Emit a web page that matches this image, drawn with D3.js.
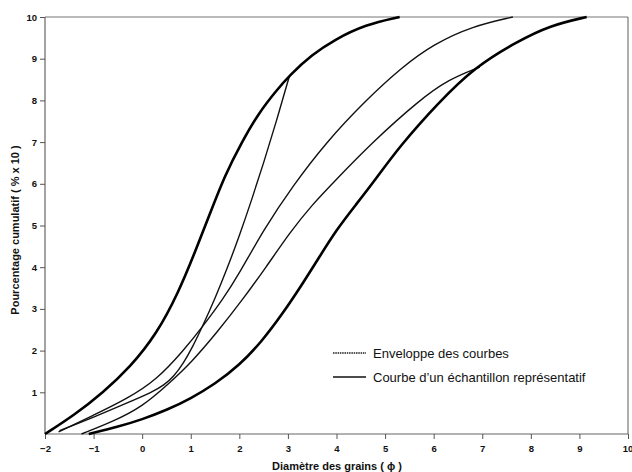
<!DOCTYPE html>
<html>
<head>
<meta charset="utf-8">
<script src="https://cdn.jsdelivr.net/npm/d3@7"></script>
<style>
  html, body { margin: 0; padding: 0; background: #fff; }
  svg { display: block; }
  text { font-family: "Liberation Sans", Arial, sans-serif; fill: #111; }
</style>
</head>
<body>
<svg id="chart" width="632" height="472"></svg>
<script>
// ---- Data ----
const xTicks = [-2, -1, 0, 1, 2, 3, 4, 5, 6, 7, 8, 9, 10];
const yTicks = [1, 2, 3, 4, 5, 6, 7, 8, 9, 10];

// Envelope curves (thick)
const envLeftX  = [-2, -1.4, -0.8, -0.25, 0.3, 0.75, 1.1, 1.4, 1.7, 2.05, 2.4, 2.75, 3.03, 3.5, 3.95, 4.6, 5.3];
const envLeftY  = [0, 0.45, 1.0, 1.6, 2.4, 3.4, 4.4, 5.3, 6.2, 7.0, 7.7, 8.22, 8.6, 9.1, 9.45, 9.82, 10];
const envRightX = [-1.1, -0.5, 0, 0.5, 1.0, 1.5, 2.0, 2.45, 2.9, 3.3, 3.65, 4.0, 4.4, 4.8, 5.3, 6.1, 6.85, 7.7, 8.4, 9.15];
const envRightY = [0, 0.17, 0.35, 0.57, 0.85, 1.2, 1.65, 2.2, 2.9, 3.6, 4.25, 4.9, 5.5, 6.1, 6.9, 7.95, 8.8, 9.4, 9.8, 10];

// Representative sample curves (thin)
const sampleAX = [-1.7, -1.0, -0.3, 0.2, 0.45, 0.65, 0.85, 1.03, 1.25, 1.5, 1.75, 2.0, 2.25, 2.5, 2.75, 3.03];
const sampleAY = [0.08, 0.4, 0.75, 1.0, 1.17, 1.38, 1.7, 2.07, 2.6, 3.25, 3.97, 4.75, 5.6, 6.5, 7.45, 8.58];
const sampleBX = [-1.72, -1.0, -0.3, 0.3, 0.85, 1.24, 1.65, 2.0, 2.5, 3.1, 3.79, 4.6, 5.35, 6.0, 6.8, 7.63];
const sampleBY = [0.05, 0.45, 0.85, 1.3, 2.0, 2.57, 3.21, 3.85, 4.9, 5.95, 7.0, 8.0, 8.8, 9.35, 9.78, 10];
const sampleCX = [-1.25, -0.6, 0, 0.56, 1.0, 1.55, 2.06, 2.55, 3.05, 3.5, 3.95, 4.74, 5.7, 6.3, 6.95];
const sampleCY = [0, 0.3, 0.65, 1.22, 1.7, 2.45, 3.21, 4.0, 4.85, 5.5, 6.05, 7.0, 8.0, 8.5, 8.8];

const legendLabels = ["Enveloppe des courbes", "Courbe d\u2019un \u00e9chantillon repr\u00e9sentatif"];
const xTitle = "Diam\u00e8tre des grains ( \u03d5 )";
const yTitle = "Pourcentage cumulatif ( % x 10 )";

// ---- Layout ----
const svg = d3.select("#chart");
const x = d3.scaleLinear().domain([-2, 10]).range([45, 628]);
const y = d3.scaleLinear().domain([0, 10]).range([434, 17]);

const zip = (xs, ys) => xs.map((v, i) => [v, ys[i]]);
const line = d3.line().x(d => x(d[0])).y(d => y(d[1])).curve(d3.curveBasis);

// Frame (top and right)
svg.append("line").attr("x1", x(-2)).attr("x2", x(10)).attr("y1", y(10)).attr("y2", y(10))
  .attr("stroke", "#777").attr("stroke-width", 1.2);
svg.append("line").attr("x1", x(10)).attr("x2", x(10)).attr("y1", y(10)).attr("y2", y(0))
  .attr("stroke", "#777").attr("stroke-width", 1.2);

// Axes
const xAxis = svg.append("g").attr("transform", `translate(0,${y(0)})`)
  .call(d3.axisBottom(x).tickValues(xTicks).tickFormat(d3.format("d")).tickSize(5).tickPadding(6));
const yAxis = svg.append("g").attr("transform", `translate(${x(-2)},0)`)
  .call(d3.axisLeft(y).tickValues(yTicks).tickFormat(d3.format("d")).tickSize(5).tickPadding(3));
[xAxis, yAxis].forEach(g => {
  g.select(".domain").attr("stroke", "#666").attr("stroke-width", 1.2);
  g.selectAll(".tick line").attr("stroke", "#555");
  g.selectAll(".tick text").attr("font-family", "Liberation Sans, Arial, sans-serif")
    .attr("font-size", 9.5).attr("font-weight", "bold").attr("fill", "#111");
});
xAxis.select(".domain").attr("d", `M${x(-2)},0H${x(10)}`);
yAxis.select(".domain").attr("d", `M0,${y(0)}V${y(10)}`);
// keep the last x label inside the picture
xAxis.selectAll(".tick text").filter(d => d === 10).attr("text-anchor", "end").attr("dx", "0.5em");

// Curves
const envelopes = [zip(envLeftX, envLeftY), zip(envRightX, envRightY)];
const samples = [zip(sampleAX, sampleAY), zip(sampleBX, sampleBY), zip(sampleCX, sampleCY)];

svg.append("g").selectAll("path").data(samples).join("path")
  .attr("d", line).attr("fill", "none").attr("stroke", "#111").attr("stroke-width", 1.4);
svg.append("g").selectAll("path").data(envelopes).join("path")
  .attr("d", line).attr("fill", "none").attr("stroke", "#000").attr("stroke-width", 2.6);

// Legend
const lg = svg.append("g");
lg.append("line").attr("x1", 333).attr("x2", 366).attr("y1", 353).attr("y2", 353)
  .attr("stroke", "#555").attr("stroke-width", 2.2).attr("stroke-dasharray", "1.5,0.8");
lg.append("line").attr("x1", 333).attr("x2", 366).attr("y1", 377).attr("y2", 377)
  .attr("stroke", "#111").attr("stroke-width", 1.5);
lg.selectAll("text").data(legendLabels).join("text")
  .attr("x", 373).attr("y", (d, i) => 353 + i * 24).attr("dy", "0.35em")
  .attr("font-size", 13).text(d => d);

// Axis titles
svg.append("text").attr("x", 337).attr("y", 466).attr("dy", "0.35em")
  .attr("text-anchor", "middle").attr("font-size", 11).attr("font-weight", "bold").text(xTitle);
svg.append("text").attr("transform", "translate(15,230) rotate(-90)").attr("dy", "0.35em")
  .attr("text-anchor", "middle").attr("font-size", 11).attr("font-weight", "bold").text(yTitle);
</script>
</body>
</html>
